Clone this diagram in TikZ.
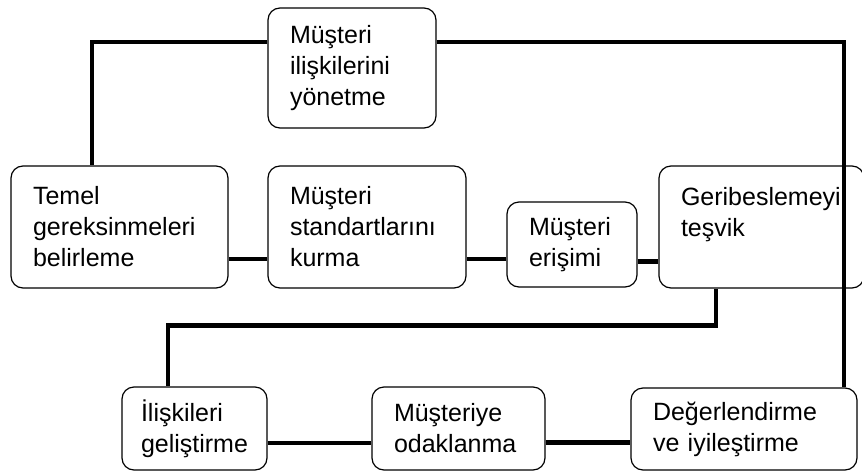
\documentclass[tikz,border=0pt]{standalone}
\usepackage{fontspec}
\setmainfont{Liberation Sans}
\usetikzlibrary{calc}

\tikzset{
  box/.style={draw, line width=1.2pt, rounded corners=12pt, align=left,
    inner xsep=22pt, inner ysep=0pt, font=\fontsize{25}{31}\selectfont},
  link/.style={line width=4.8pt},
}

\begin{document}
\begin{tikzpicture}[x=1pt,y=-1pt]
\clip (0,0) rectangle (862,474);

%%%%%%%%%% top row
\node[box, text width=124pt, minimum height=120pt] (manage) at (352,68) {Müşteri\\ilişkilerini\\yönetme};

%%%%%%%%%% middle row
\node[box, text width=173pt, minimum height=122pt] (temel) at (119.5,227) {Temel\\gereksinmeleri\\belirleme};
\node[box, text width=154pt, minimum height=122pt] (standart) at (367,227) {Müşteri\\standartlarını\\kurma};
\node[box, text width=86pt, minimum height=85pt] (erisim) at (572,244.5) {Müşteri\\erişimi};
\node[box, text width=161pt, minimum height=122pt] (geri) at (761.5,227) {Geribeslemeyi\\teşvik\\\mbox{}};

%%%%%%%%%% bottom row
\node[box, inner xsep=19pt, text width=107pt, minimum height=83pt] (iliski) at (194.5,428.5) {İlişkileri\\geliştirme};
\node[box, text width=129pt, minimum height=83pt] (odak) at (458.5,428.5) {Müşteriye\\odaklanma};
\node[box, text width=182pt, minimum height=82pt] (deger) at (744,429) {Değerlendirme\\ve iyileştirme};

%%%%%%%%%% links
\draw[link] ([yshift=26pt]manage.west) -| ([xshift=-27.5pt]temel.north);
\draw[link] ([yshift=26pt]manage.east) -| ([xshift=100pt]deger.north);
\draw[link] ([yshift=-32pt]temel.east) -- ([yshift=-32pt]temel.east -| standart.west);
\draw[link] ([yshift=-32pt]standart.east) -- ([yshift=-32pt]standart.east -| erisim.west);
\draw[link] ([yshift=-17pt]erisim.east) -- ([yshift=-17pt]erisim.east -| geri.west);
\draw[link] ([xshift=-45.5pt]geri.south) -- ++(0,37) -| ([xshift=-26.5pt]iliski.north);
\draw[link] ([yshift=-14.5pt]iliski.east) -- ([yshift=-14.5pt]iliski.east -| odak.west);
\draw[link] ([yshift=-14pt]odak.east) -- ([yshift=-14pt]odak.east -| deger.west);
\end{tikzpicture}
\end{document}
